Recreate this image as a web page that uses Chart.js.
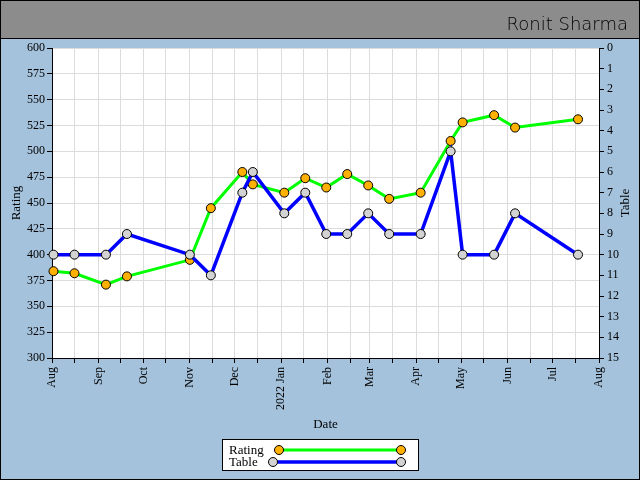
<!DOCTYPE html>
<html>
<head>
<meta charset="utf-8">
<script src="https://cdn.jsdelivr.net/npm/chart.js@4/dist/chart.umd.min.js"></script>
<style>
  html, body { margin: 0; padding: 0; background: #a5c2dc; }
  #wrap { width: 640px; height: 480px; }
</style>
</head>
<body>
<div id="wrap"><canvas id="myChart" width="640" height="480"></canvas></div>
<script>
// data
const dates = ['2021-08-02', '2021-08-16', '2021-09-06', '2021-09-20', '2021-11-01',
    '2021-11-15', '2021-12-06', '2021-12-13', '2022-01-03', '2022-01-17',
    '2022-01-31', '2022-02-14', '2022-02-28', '2022-03-14', '2022-04-04',
    '2022-04-24', '2022-05-02', '2022-05-23', '2022-06-06', '2022-07-18'];
const rating = [384, 382, 371, 379, 395, 445, 480, 468, 460, 474,
    465, 478, 467, 454, 460, 510, 528, 535, 523, 531];
const table = [10, 10, 10, 9, 10, 11, 7, 6, 8, 7,
    9, 9, 8, 9, 9, 5, 10, 10, 8, 10];
const monthStarts = ['2021-08-01', '2021-09-01', '2021-10-01', '2021-11-01', '2021-12-01',
    '2022-01-01', '2022-02-01', '2022-03-01', '2022-04-01', '2022-05-01',
    '2022-06-01', '2022-07-01', '2022-08-01'];
const monthLabels = ['Aug', 'Sep', 'Oct', 'Nov', 'Dec', '2022 Jan', 'Feb', 'Mar',
    'Apr', 'May', 'Jun', 'Jul', 'Aug'];
const midMonths = ['2021-08-16', '2021-09-16', '2021-10-16', '2021-11-16', '2021-12-16',
    '2022-01-16', '2022-02-16', '2022-03-16', '2022-04-16', '2022-05-16',
    '2022-06-16', '2022-07-16'];

const origin = Date.parse('2021-08-01');
const day = s => (Date.parse(s) - origin) / 86400000;

const tickDays = monthStarts.map(day).concat(midMonths.map(day)).sort((a, b) => a - b);
const labelByDay = {};
monthStarts.forEach((m, i) => { labelByDay[day(m)] = monthLabels[i]; });

const serif = '"Liberation Serif", "DejaVu Serif", serif';

const frame = {
    id: 'frame',
    beforeDraw(chart) {
        const c = chart.ctx;
        c.save();
        c.fillStyle = '#a5c2dc';
        c.fillRect(0, 0, 640, 480);
        c.fillStyle = '#8c8c8c';
        c.fillRect(0, 0, 640, 38);
        c.fillStyle = '#000';
        c.fillRect(0, 38, 640, 1);
        c.strokeStyle = '#000';
        c.lineWidth = 1;
        c.strokeRect(0.5, 0.5, 639, 479);
        c.font = '300 18px "DejaVu Sans", sans-serif';
        c.fillStyle = '#000';
        c.textAlign = 'right';
        c.textBaseline = 'alphabetic';
        c.fillText('Ronit Sharma', 628, 30);
        const a = chart.chartArea;
        c.fillStyle = '#fff';
        c.fillRect(a.left, a.top, a.right - a.left, a.bottom - a.top);
        c.restore();
    },
    afterDraw(chart) {
        const c = chart.ctx;
        c.save();
        // right axis title, reading upward
        c.font = '13px ' + serif;
        c.fillStyle = '#000';
        c.translate(626, 203);
        c.rotate(-Math.PI / 2);
        c.textAlign = 'center';
        c.textBaseline = 'middle';
        c.fillText('Table', 0, 0);
        c.restore();

        // legend
        c.save();
        c.fillStyle = '#fff';
        c.fillRect(222, 439, 196, 31);
        c.strokeStyle = '#000';
        c.lineWidth = 1;
        c.strokeRect(222.5, 439.5, 196, 31);
        c.font = '13px ' + serif;
        c.textAlign = 'left';
        c.textBaseline = 'middle';
        const rows = [
            { text: 'Rating', ds: chart.data.datasets[1], y: 450, x0: 279 },
            { text: 'Table', ds: chart.data.datasets[0], y: 462, x0: 273 }
        ];
        rows.forEach(r => {
            c.fillStyle = '#000';
            c.fillText(r.text, 229, r.y + 1);
            c.strokeStyle = r.ds.borderColor;
            c.lineWidth = r.ds.borderWidth;
            c.beginPath();
            c.moveTo(r.x0, r.y);
            c.lineTo(401, r.y);
            c.stroke();
            [r.x0, 401].forEach(x => {
                c.beginPath();
                c.arc(x, r.y, 4.5, 0, Math.PI * 2);
                c.fillStyle = r.ds.pointBackgroundColor;
                c.fill();
                c.lineWidth = 1;
                c.strokeStyle = '#000';
                c.stroke();
            });
        });
        c.restore();
    }
};

const ctx = document.getElementById('myChart').getContext('2d');
const myChart = new Chart(ctx, {
    type: 'line',
    data: {
        datasets: [{
            label: 'Table',
            data: dates.map((d, i) => ({ x: day(d), y: table[i] })),
            yAxisID: 'y2',
            borderColor: '#0000ff',
            borderWidth: 3.5,
            pointBackgroundColor: '#d3d3d3',
            pointBorderColor: '#000',
            pointBorderWidth: 1,
            pointRadius: 4.5,
            tension: 0,
            clip: false,
            order: 0
        }, {
            label: 'Rating',
            data: dates.map((d, i) => ({ x: day(d), y: rating[i] })),
            yAxisID: 'y',
            borderColor: '#00ff00',
            borderWidth: 3,
            pointBackgroundColor: '#ffb000',
            pointBorderColor: '#000',
            pointBorderWidth: 1,
            pointRadius: 4.5,
            tension: 0,
            clip: false,
            order: 1
        }]
    },
    options: {
        responsive: false,
        animation: false,
        events: [],
        layout: { padding: { top: 48, left: 0, right: 0, bottom: 44 } },
        plugins: { legend: { display: false }, tooltip: { enabled: false } },
        scales: {
            x: {
                type: 'linear',
                min: 0,
                max: day('2022-08-01'),
                afterBuildTicks: s => { s.ticks = tickDays.map(v => ({ value: v })); },
                afterFit: s => { s.height = 78; },
                ticks: {
                    autoSkip: false,
                    minRotation: 90,
                    maxRotation: 90,
                    padding: 4,
                    color: '#000',
                    font: { family: serif, size: 12 },
                    callback: v => labelByDay[v] || ''
                },
                grid: { color: '#dcdcdc', tickColor: '#000', tickLength: 5 },
                border: { color: '#000' },
                title: { display: true, text: 'Date', color: '#000', font: { family: serif, size: 13 } }
            },
            y: {
                position: 'left',
                min: 300,
                max: 600,
                afterFit: s => { s.width = 52; },
                ticks: { stepSize: 25, padding: 2, color: '#000', font: { family: serif, size: 12 } },
                grid: { color: '#dcdcdc', tickColor: '#000', tickLength: 5 },
                border: { color: '#000' },
                title: { display: true, text: 'Rating', color: '#000', font: { family: serif, size: 13 }, padding: { top: 9 } }
            },
            y2: {
                position: 'right',
                min: 0,
                max: 15,
                reverse: true,
                afterFit: s => { s.width = 41; },
                ticks: { stepSize: 1, padding: 3, color: '#000', font: { family: serif, size: 12 } },
                grid: { drawOnChartArea: false, tickColor: '#000', tickLength: 5 },
                border: { color: '#000' }
            }
        }
    },
    plugins: [frame]
});
</script>
</body>
</html>
